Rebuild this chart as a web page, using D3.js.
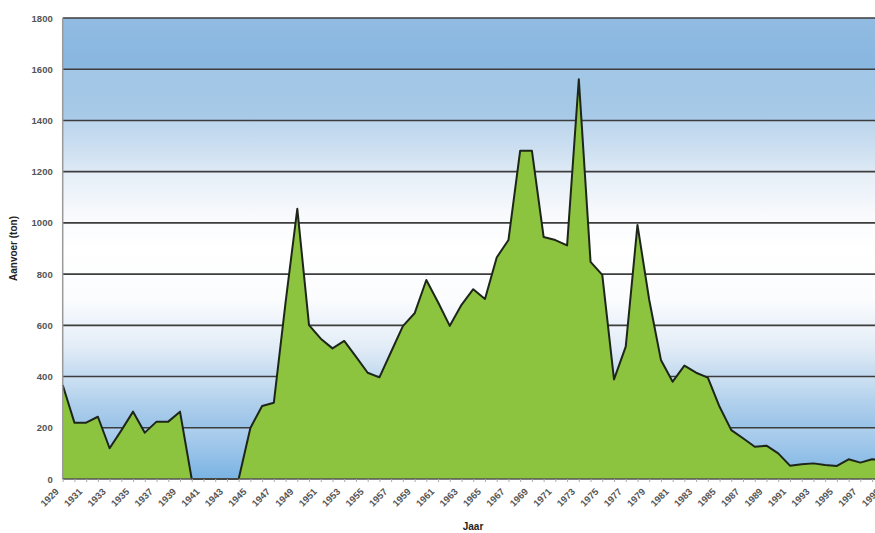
<!DOCTYPE html>
<html>
<head>
<meta charset="utf-8">
<script src="https://cdn.jsdelivr.net/npm/d3@7"></script>
<style>
  html, body { margin: 0; padding: 0; background: #ffffff; }
  svg { display: block; }
  text { font-family: "Liberation Sans", Arial, sans-serif; }
</style>
</head>
<body>
<div id="chart"></div>
<script>
// ---- data ----
const years = d3.range(1929, 2000);
const aanvoer = [
  367, 220, 220, 243, 120, 190, 263, 181, 224, 224,   // 1929-1938
  263, 0, 0, 0, 0, 0, 199, 285, 298, 690,             // 1939-1948
  1055, 601, 548, 510, 539, 478, 415, 397, 497, 597,  // 1949-1958
  647, 777, 690, 598, 680, 741, 703, 865, 933, 1282,  // 1959-1968
  1282, 945, 933, 912, 1561, 848, 797, 389, 517, 992, // 1969-1978
  700, 465, 380, 443, 415, 396, 282, 191, 159, 126,   // 1979-1988
  130, 100, 52, 58, 61, 55, 51, 77, 64, 77,           // 1989-1998
  75                                                  // 1999
];
const yTicks = [0, 200, 400, 600, 800, 1000, 1200, 1400, 1600, 1800];
const xTickLabels = d3.range(1929, 2000, 2);
const yTitle = "Aanvoer (ton)";
const xTitle = "Jaar";

const data = years.map((yr, i) => ({ year: yr, value: aanvoer[i] }));

// ---- layout ----
const W = 875, H = 533;
const mLeft = 62.7, mTop = 18, mBottom = 479;
const mRight = mLeft + 70 * 11.73;

const svg = d3.select("#chart").append("svg")
  .attr("width", W).attr("height", H);

const x = d3.scaleLinear().domain([1929, 1999]).range([mLeft, mRight]);
const y = d3.scaleLinear().domain([0, 1800]).range([mBottom, mTop]);

// background gradient
const defs = svg.append("defs");
const grad = defs.append("linearGradient").attr("id", "bg")
  .attr("x1", 0).attr("y1", 0).attr("x2", 0).attr("y2", 1);
[
  [0, "#74a9da"], [0.11, "#88b7e0"], [0.22, "#a9cae8"], [0.33, "#dde9f5"],
  [0.42, "#f7f9fc"], [0.5, "#ffffff"], [0.61, "#fbfcfe"], [0.72, "#dbe8f5"],
  [0.83, "#a8cbea"], [0.91, "#92bfe7"], [1, "#7ab3e3"]
].forEach(([o, c]) => grad.append("stop").attr("offset", o).attr("stop-color", c));

const band = defs.append("linearGradient").attr("id", "band")
  .attr("x1", 0).attr("y1", 0).attr("x2", 0).attr("y2", 1);
band.append("stop").attr("offset", 0).attr("stop-color", "#ffffff").attr("stop-opacity", 0.22);
band.append("stop").attr("offset", 1).attr("stop-color", "#ffffff").attr("stop-opacity", 0);

svg.append("rect")
  .attr("x", mLeft).attr("y", mTop)
  .attr("width", mRight - mLeft).attr("height", mBottom - mTop)
  .attr("fill", "url(#bg)");

// subtle banding between gridlines
svg.append("g").selectAll("rect")
  .data(yTicks.slice(1))
  .join("rect")
  .attr("x", mLeft)
  .attr("y", d => y(d))
  .attr("width", mRight - mLeft)
  .attr("height", d => y(d - 200) - y(d))
  .attr("fill", "url(#band)");

// gridlines
svg.append("g").selectAll("line")
  .data(yTicks.slice(1))
  .join("line")
  .attr("x1", mLeft).attr("x2", mRight)
  .attr("y1", d => y(d)).attr("y2", d => y(d))
  .attr("stroke", "#3d3d3d").attr("stroke-width", 1.6);

// area
const area = d3.area()
  .x(d => x(d.year))
  .y0(y(0))
  .y1(d => y(d.value));
const line = d3.line()
  .x(d => x(d.year))
  .y(d => y(d.value));

svg.append("path").datum(data)
  .attr("d", area)
  .attr("fill", "#8cc43f");
svg.append("path").datum(data)
  .attr("d", line)
  .attr("fill", "none")
  .attr("stroke", "#1e2619")
  .attr("stroke-width", 2)
  .attr("stroke-linejoin", "round");

// axes lines
svg.append("line")
  .attr("x1", mLeft).attr("x2", mLeft)
  .attr("y1", mTop).attr("y2", mBottom)
  .attr("stroke", "#9a9a9a").attr("stroke-width", 1.5);
svg.append("line")
  .attr("x1", mLeft).attr("x2", mRight)
  .attr("y1", mBottom).attr("y2", mBottom)
  .attr("stroke", "#555").attr("stroke-width", 1.5);

// y axis labels
const yAxis = d3.axisLeft(y).tickValues(yTicks).tickSize(0).tickPadding(10)
  .tickFormat(d3.format("d"));
const gy = svg.append("g").attr("transform", `translate(${mLeft},0)`).call(yAxis);
gy.select(".domain").remove();
gy.selectAll("text")
  .attr("font-family", "'Liberation Sans', Arial, sans-serif")
  .attr("font-size", 9.5).attr("font-weight", "bold").attr("fill", "#555");

// x axis minor ticks and labels
const xAxis = d3.axisBottom(x).tickValues(years).tickSize(3)
  .tickFormat(d => (xTickLabels.includes(d) ? String(d) : ""));
const gx = svg.append("g").attr("transform", `translate(0,${mBottom})`).call(xAxis);
gx.select(".domain").remove();
gx.selectAll("line").attr("stroke", "#aaa");
gx.selectAll("text")
  .attr("font-family", "'Liberation Sans', Arial, sans-serif")
  .attr("font-size", 9.5).attr("font-weight", "bold").attr("fill", "#555")
  .attr("text-anchor", "end")
  .attr("x", 0).attr("y", 0).attr("dy", "0.35em")
  .attr("transform", "translate(-6,11) rotate(-45)");

// titles
svg.append("text")
  .attr("transform", `translate(17,${(mTop + mBottom) / 2}) rotate(-90)`)
  .attr("text-anchor", "middle")
  .attr("font-size", 10).attr("font-weight", "bold").attr("fill", "#222")
  .text(yTitle);
svg.append("text")
  .attr("x", 473).attr("y", 530)
  .attr("text-anchor", "middle")
  .attr("font-size", 10).attr("font-weight", "bold").attr("fill", "#222")
  .text(xTitle);
</script>
</body>
</html>
